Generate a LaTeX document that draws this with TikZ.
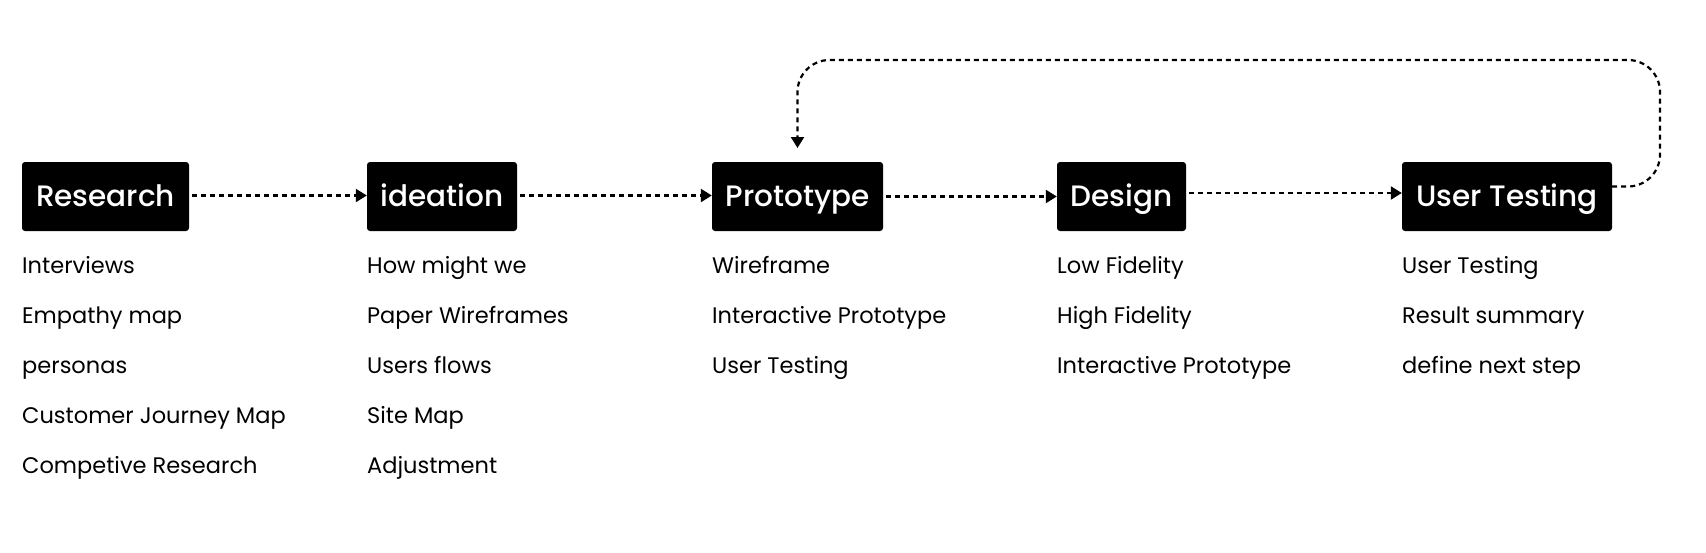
\documentclass[tikz,border=0pt]{standalone}
\usepackage{fontspec}
\setmainfont{Poppins}
\newfontfamily\stagefont{Poppins Medium}
\usetikzlibrary{arrows.meta}
\begin{document}
\begin{tikzpicture}[x=1pt,y=-1pt,
  stage/.style={fill=black, text=white, rounded corners=3pt, inner sep=0pt,
    minimum height=69pt, text height=20.5pt, text depth=0pt, font=\stagefont\fontsize{29.5}{33}\selectfont},
  item/.style={anchor=base west, inner sep=0pt, font=\fontsize{22.5}{25}\selectfont},
  conn/.style={line width=2.2pt, dash pattern=on 5pt off 4pt, -{Triangle[length=11pt,width=13pt]}}
]
\useasboundingbox (0,0) rectangle (1706,552);
\node[stage, minimum width=167pt] (R) at (105.5,196.5) {Research};
\node[stage, minimum width=150pt] (I) at (442,196.5) {ideation};
\node[stage, minimum width=171pt] (P) at (797.5,196.5) {Prototype};
\node[stage, minimum width=129pt] (D) at (1121.5,196.5) {Design};
\node[stage, minimum width=210pt] (U) at (1507,196.5) {User Testing};

\node[item] (r1) at (22,273) {Interviews};
\node[item] (r2) at (22,323) {Empathy map};
\node[item] (r3) at (22,373) {personas};
\node[item] (r4) at (22,423) {Customer Journey Map};
\node[item] (r5) at (22,473) {Competive Research};

\node[item] (i1) at (367,273) {How might we};
\node[item] (i2) at (367,323) {Paper Wireframes};
\node[item] (i3) at (367,373) {Users flows};
\node[item] (i4) at (367,423) {Site Map};
\node[item] (i5) at (367,473) {Adjustment};

\node[item] (p1) at (712,273) {Wireframe};
\node[item] (p2) at (712,323) {Interactive Prototype};
\node[item] (p3) at (712,373) {User Testing};

\node[item] (d1) at (1057,273) {Low Fidelity};
\node[item] (d2) at (1057,323) {High Fidelity};
\node[item] (d3) at (1057,373) {Interactive Prototype};

\node[item] (u1) at (1402,273) {User Testing};
\node[item] (u2) at (1402,323) {Result summary};
\node[item] (u3) at (1402,373) {define next step};

\draw[conn, shorten <=3pt] ([yshift=1pt]R.east) -- ([yshift=1pt]I.west);
\draw[conn, shorten <=3pt] ([yshift=1pt]I.east) -- ([yshift=1pt]P.west);
\draw[conn, shorten <=3pt] (P.east) -- (D.west);
\draw[conn, shorten <=3pt] ([yshift=3.5pt]D.east) -- ([yshift=3.5pt]U.west);

\coordinate (a) at (1660,186.5);
\coordinate (b) at (1660,60);
\coordinate (c) at (797.5,60);
\coordinate (e) at (797.5,148);
\draw[conn, rounded corners=32pt] ([yshift=10pt]U.east) -- (a) -- (b) -- (c) -- (e);
\end{tikzpicture}
\end{document}
